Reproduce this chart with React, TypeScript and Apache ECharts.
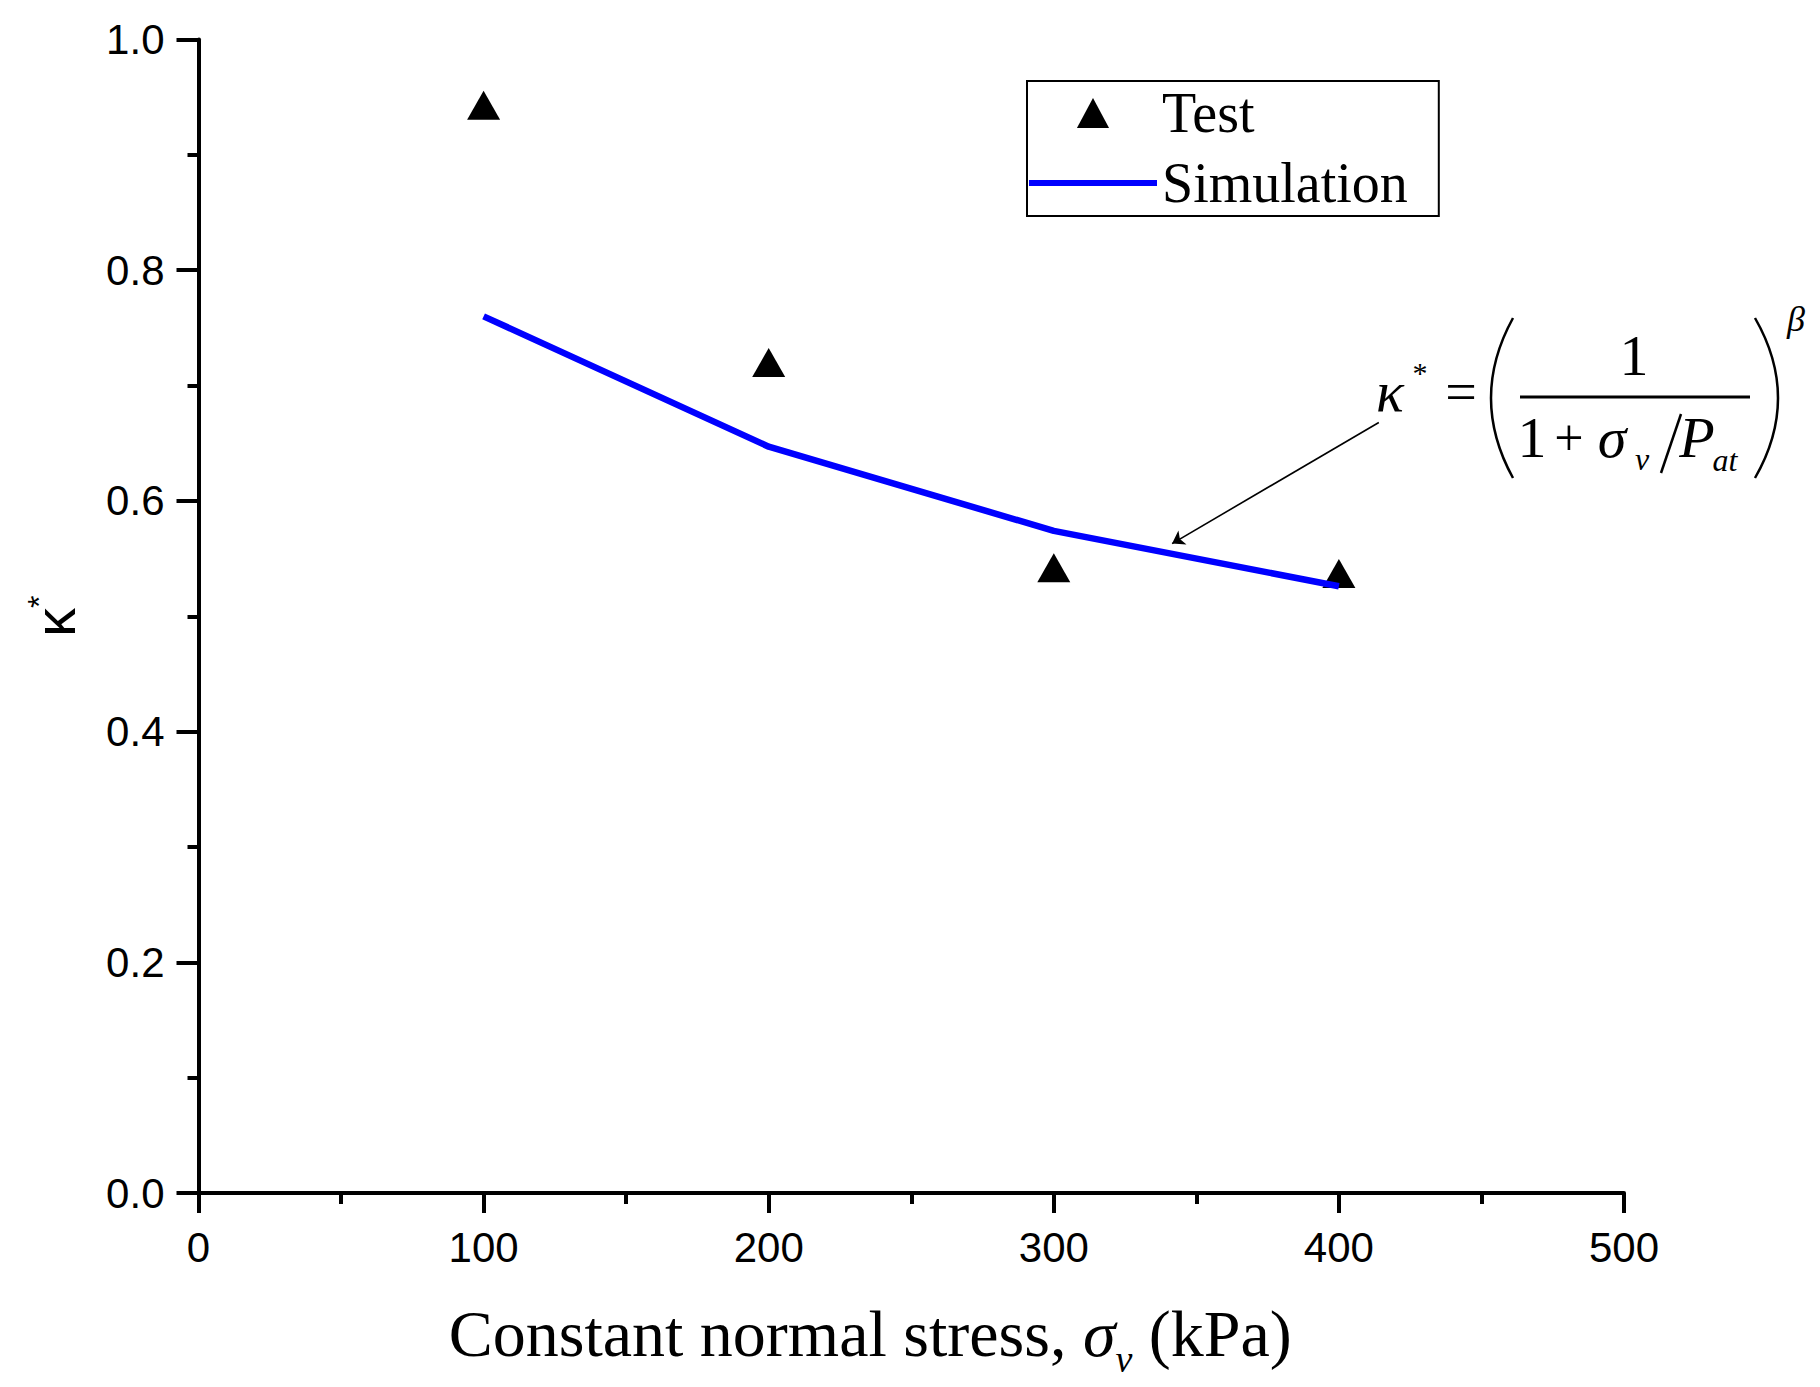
import React, { useEffect, useRef } from "react";
import * as echarts from "echarts";

// ---- data ----
const stressValues = [100, 200, 300, 400];
const testValues = [0.943, 0.72, 0.542, 0.537];
const simulationValues = [0.76, 0.647, 0.574, 0.526];
const xTickMin = 0;
const xTickMax = 500;
const xTickStep = 100;
const yTickMin = 0;
const yTickMax = 1;
const yTickStep = 0.2;
const arrowStart = [414, 0.668];
const arrowEnd = [341.5, 0.563];
const legendNames = ["Test", "Simulation"];

const SERIF = "'Liberation Serif', 'Times New Roman', serif";
const SANS = "'Liberation Sans', Arial, sans-serif";

function formulaGraphics() {
  const t = (
    text: string,
    x: number,
    y: number,
    fontSize: number,
    italic = false
  ) => ({
    type: "text",
    x,
    y,
    silent: true,
    style: {
      text,
      fontSize,
      fontFamily: SERIF,
      fontStyle: italic ? "italic" : "normal",
      fill: "#000",
      align: "center",
      verticalAlign: "middle",
    },
  });
  return [
    t("κ", 1390, 391, 58, true),
    t("*", 1420, 372, 30),
    t("=", 1461, 392, 56),
    {
      type: "bezierCurve",
      silent: true,
      shape: { x1: 1513, y1: 318, x2: 1513, y2: 478, cpx1: 1469, cpy1: 398 },
      style: { stroke: "#000", lineWidth: 2.5, fill: null },
    },
    {
      type: "bezierCurve",
      silent: true,
      shape: { x1: 1755, y1: 318, x2: 1755, y2: 478, cpx1: 1801, cpy1: 398 },
      style: { stroke: "#000", lineWidth: 2.5, fill: null },
    },
    t("1", 1634, 355, 58),
    {
      type: "line",
      silent: true,
      shape: { x1: 1520, y1: 397, x2: 1750, y2: 397 },
      style: { stroke: "#000", lineWidth: 3 },
    },
    t("1", 1532, 437, 58),
    t("+", 1569, 437, 52),
    t("σ", 1612, 437, 58, true),
    t("v", 1642, 459, 32, true),
    {
      type: "line",
      silent: true,
      shape: { x1: 1681, y1: 414, x2: 1661, y2: 473 },
      style: { stroke: "#000", lineWidth: 2.5 },
    },
    t("P", 1697, 437, 58, true),
    t("at", 1725, 460, 32, true),
    t("β", 1796, 319, 36, true),
  ];
}

export default function App() {
  const ref = useRef<HTMLDivElement>(null);

  useEffect(() => {
    if (!ref.current) return;
    const chart = echarts.init(ref.current, null, { renderer: "svg" });
    const axisColor = "#000";
    chart.setOption({
      animation: false,
      backgroundColor: "#fff",
      grid: {
        left: 198.5,
        right: 196,
        top: 39.5,
        bottom: 194,
        containLabel: false,
        outerBoundsMode: "none",
      },
      legend: {
        orient: "vertical",
        left: 1027,
        top: 81,
        itemWidth: 128,
        itemHeight: 30,
        itemGap: 14,
        padding: [4, 31, 5, 2],
        borderColor: "#000",
        borderWidth: 2,
        symbolKeepAspect: true,
        data: [
          {
            name: legendNames[0],
            icon: "path://M0,28 L15,0 L30,28 Z",
            itemStyle: { color: "#000", opacity: 1 },
          },
          {
            name: legendNames[1],
            icon: "path://M0,0 L128,0 L128,6 L0,6 Z",
            itemStyle: { color: "#0000ff", opacity: 1 },
          },
        ],
        textStyle: { fontFamily: SERIF, fontSize: 56, color: "#000", lineHeight: 56 },
      },
      xAxis: {
        type: "value",
        min: xTickMin,
        max: xTickMax,
        interval: xTickStep,
        name: "{a|Constant normal stress, }{i|σ}{s|v}{a| (kPa)}",
        nameLocation: "middle",
        nameGap: 104,
        nameTextStyle: {
          padding: [0, 82, 0, 0],
          rich: {
            a: { fontFamily: SERIF, fontSize: 66, color: "#000", lineHeight: 72 },
            i: { fontFamily: SERIF, fontSize: 66, fontStyle: "italic", color: "#000", lineHeight: 72 },
            s: {
              fontFamily: SERIF,
              fontSize: 38,
              fontStyle: "italic",
              color: "#000",
              lineHeight: 42,
              verticalAlign: "bottom",
              padding: [0, 0, -9, 0],
            },
          },
        },
        axisLine: { show: true, onZero: false, lineStyle: { color: axisColor, width: 4 } },
        axisTick: { show: true, inside: false, length: 20, lineStyle: { color: axisColor, width: 4 } },
        minorTick: { show: true, splitNumber: 2, length: 11, lineStyle: { color: axisColor, width: 4 } },
        splitLine: { show: false },
        minorSplitLine: { show: false },
        axisLabel: {
          fontFamily: SANS,
          fontSize: 42,
          color: "#000",
          margin: 33,
          formatter: (v: number) => String(v),
        },
      },
      yAxis: {
        type: "value",
        min: yTickMin,
        max: yTickMax,
        interval: yTickStep,
        name: "{k|κ}{s|*}",
        nameLocation: "middle",
        nameRotate: 90,
        nameGap: 112,
        nameTextStyle: {
          rich: {
            k: { fontFamily: SANS, fontSize: 58, color: "#000", lineHeight: 64 },
            s: { fontFamily: SANS, fontSize: 32, color: "#000", lineHeight: 64, verticalAlign: "top" },
          },
        },
        axisLine: { show: true, onZero: false, lineStyle: { color: axisColor, width: 4 } },
        axisTick: { show: true, inside: false, length: 22, lineStyle: { color: axisColor, width: 4 } },
        minorTick: { show: true, splitNumber: 2, length: 11, lineStyle: { color: axisColor, width: 4 } },
        splitLine: { show: false },
        minorSplitLine: { show: false },
        axisLabel: {
          fontFamily: SANS,
          fontSize: 42,
          color: "#000",
          margin: 34,
          formatter: (v: number) => v.toFixed(1),
        },
      },
      series: [
        {
          name: "Test",
          type: "scatter",
          symbol: "triangle",
          symbolSize: [33, 29],
          itemStyle: { color: "#000", opacity: 1 },
          data: stressValues.map((x, i) => [x, testValues[i]]),
          z: 2,
        },
        {
          name: "Simulation",
          type: "line",
          symbol: "none",
          showSymbol: false,
          lineStyle: { color: "#0000ff", width: 6.5 },
          itemStyle: { color: "#0000ff" },
          data: stressValues.map((x, i) => [x, simulationValues[i]]),
          z: 3,
          markLine: {
            silent: true,
            symbol: ["none", "arrow"],
            symbolSize: 12,
            label: { show: false },
            lineStyle: { color: "#000", width: 1.6, type: "solid" },
            data: [[{ coord: arrowStart }, { coord: arrowEnd }]],
          },
        },
      ],
      graphic: formulaGraphics(),
    });
    return () => chart.dispose();
  }, []);

  return (
    <div
      ref={ref}
      style={{ position: "fixed", left: 0, top: 0, width: 1820, height: 1387, background: "#fff" }}
    />
  );
}
